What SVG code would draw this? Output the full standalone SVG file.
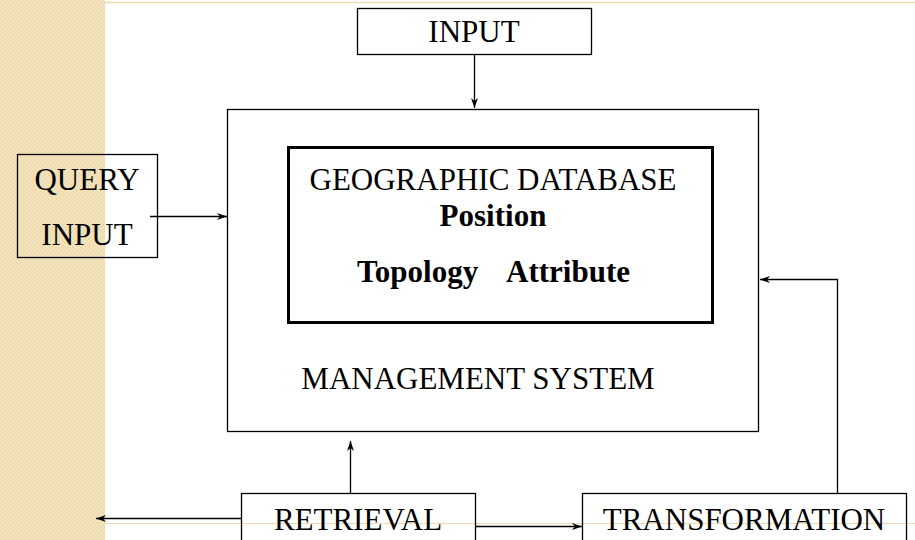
<svg xmlns="http://www.w3.org/2000/svg" width="915" height="540" viewBox="0 0 915 540">
<defs>
<pattern id="chk" width="4" height="4" patternUnits="userSpaceOnUse">
<rect width="4" height="4" fill="#EEDCB0"/>
<rect width="2" height="2" fill="#F2E3BD"/>
<rect x="2" y="2" width="2" height="2" fill="#F2E3BD"/>
</pattern>
<marker id="ah" markerWidth="11" markerHeight="8" refX="10" refY="4" orient="auto" markerUnits="userSpaceOnUse">
<path d="M0,0.5 L10,4 L0,7.5 L3,4 Z" fill="#000"/>
</marker>
<style>
.box{fill:none;stroke:#000;stroke-width:1.3}
.thick{fill:none;stroke:#000;stroke-width:3}
.t{font-family:"Liberation Serif","Times New Roman",serif;font-size:31px;fill:#000}
.b{font-weight:bold}
.c{fill:none;stroke:#000;stroke-width:1.3}
</style>
</defs>
<rect x="0" y="0" width="915" height="540" fill="#fff"/>
<rect x="0" y="0" width="105" height="540" fill="url(#chk)"/>
<line x1="105" y1="2.5" x2="915" y2="2.5" stroke="#EEDCB0" stroke-width="1.5"/>
<line x1="105" y1="523.5" x2="915" y2="523.5" stroke="#EEDCB0" stroke-width="1"/>

<g id="input">
<rect class="box" x="357.5" y="8.5" width="234" height="46"/>
<text class="t" x="474" y="42" text-anchor="middle">INPUT</text>
</g>
<g id="management">
<rect class="box" x="227.5" y="109.5" width="531" height="322"/>
<text class="t" x="478" y="389" text-anchor="middle">MANAGEMENT SYSTEM</text>
</g>
<g id="database">
<rect class="thick" x="288.5" y="147.5" width="424" height="175"/>
<text class="t" x="493" y="190" text-anchor="middle">GEOGRAPHIC DATABASE</text>
<text class="t b" x="493" y="226" text-anchor="middle">Position</text>
<text class="t b" x="357" y="282">Topology</text>
<text class="t b" x="630" y="282" text-anchor="end">Attribute</text>
</g>
<g id="query">
<rect class="box" x="17.5" y="154.5" width="140" height="103"/>
<text class="t" x="87" y="190" text-anchor="middle">QUERY</text>
<text class="t" x="87" y="245" text-anchor="middle">INPUT</text>
</g>
<g id="retrieval">
<rect class="box" x="241.5" y="493.5" width="234" height="60"/>
<text class="t" x="358" y="530" text-anchor="middle">RETRIEVAL</text>
</g>
<g id="transformation">
<rect class="box" x="582.5" y="493.5" width="324" height="60"/>
<text class="t" x="744" y="530" text-anchor="middle">TRANSFORMATION</text>
</g>
<g id="connectors">
<line class="c" x1="474.5" y1="55" x2="474.5" y2="108" marker-end="url(#ah)"/>
<line class="c" x1="150" y1="216.5" x2="227" y2="216.5" marker-end="url(#ah)"/>
<line class="c" x1="350.5" y1="493" x2="350.5" y2="441" marker-end="url(#ah)"/>
<line class="c" x1="241" y1="518.5" x2="96" y2="518.5" marker-end="url(#ah)"/>
<line class="c" x1="476" y1="526.5" x2="582" y2="526.5" marker-end="url(#ah)"/>
<polyline class="c" points="837.5,493 837.5,279.5 760,279.5" marker-end="url(#ah)"/>
</g>
</svg>
